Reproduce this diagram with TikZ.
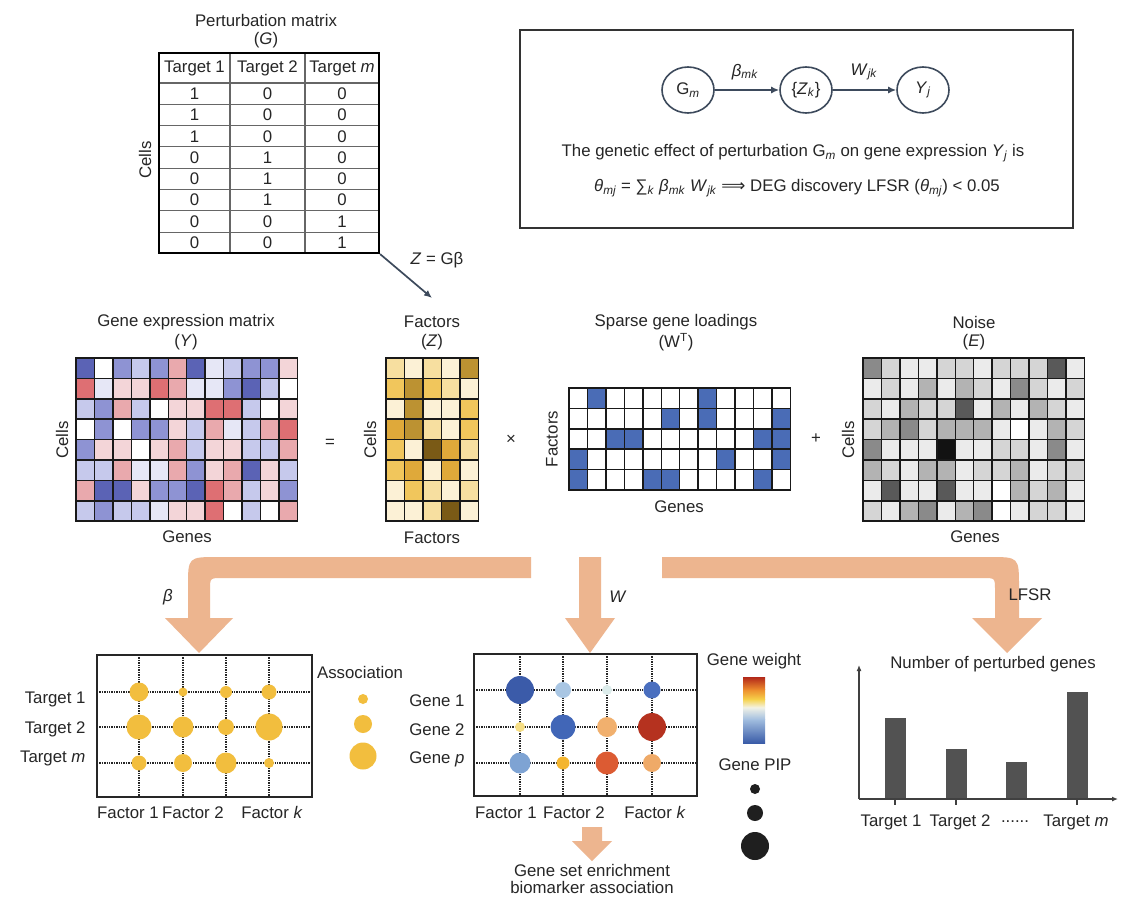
\documentclass[tikz,border=0pt]{standalone}
\usepackage{fontspec}
\setmainfont{Liberation Sans}
\newfontfamily\symfont{DejaVu Sans}
\usetikzlibrary{arrows.meta}
\usetikzlibrary{shapes.geometric}

\definecolor{slate}{HTML}{3D4A5C}
\definecolor{peach}{HTML}{EDB58F}
\definecolor{assocy}{HTML}{F2BE3E}
% expression matrix
\definecolor{hB3}{HTML}{5B63B5}
\definecolor{hB2}{HTML}{8E93D3}
\definecolor{hB1}{HTML}{C6C9EC}
\definecolor{hB0}{HTML}{E6E7F6}
\definecolor{hW}{HTML}{FFFFFF}
\definecolor{hR1}{HTML}{F3D5D8}
\definecolor{hR2}{HTML}{E9A9AD}
\definecolor{hR3}{HTML}{DE6F73}
% factors
\definecolor{zY0}{HTML}{FCF1D6}
\definecolor{zY1}{HTML}{F7DFA0}
\definecolor{zY2}{HTML}{F1C65C}
\definecolor{zY3}{HTML}{DFA93A}
\definecolor{zY4}{HTML}{BC9232}
\definecolor{zY5}{HTML}{7A5A16}
% loadings
\definecolor{wW}{HTML}{FFFFFF}
\definecolor{wB}{HTML}{4A6CB6}
% noise
\definecolor{nG0}{HTML}{FFFFFF}
\definecolor{nG1}{HTML}{EBEBEB}
\definecolor{nG2}{HTML}{D5D5D5}
\definecolor{nG3}{HTML}{B3B3B3}
\definecolor{nG4}{HTML}{8A8A8A}
\definecolor{nG5}{HTML}{595959}
\definecolor{nG6}{HTML}{121212}
% gene weights
\definecolor{gDB}{HTML}{3B5BA9}
\definecolor{gLB}{HTML}{A9C6E3}
\definecolor{gVL}{HTML}{DCECEB}
\definecolor{gMB}{HTML}{4A6FBF}
\definecolor{gLY}{HTML}{F6DE84}
\definecolor{gBB}{HTML}{4166B7}
\definecolor{gLO}{HTML}{F1B06E}
\definecolor{gDR}{HTML}{B5321F}
\definecolor{gSB}{HTML}{7EA3D3}
\definecolor{gYO}{HTML}{F4B52E}
\definecolor{gRO}{HTML}{DC5B33}
\definecolor{gPO}{HTML}{EFAA68}
\definecolor{gwblue}{HTML}{3A5CA8}
\definecolor{gwlblue}{HTML}{A3BFE0}
\definecolor{gwpale}{HTML}{F3F3E6}
\definecolor{gwyellow}{HTML}{F6D24A}
\definecolor{gworange}{HTML}{EC8A2C}
\definecolor{gwred}{HTML}{B2281A}

\newcommand{\figfont}{\fontsize{16.8}{20}\selectfont}
\newcommand{\cellw}{18.45}
\newcommand{\cellh}{20.4}
% #1 columns, #2 rows, #3 colour rows
\newcommand{\cellgrid}[3]{%
  \foreach \cells [count=\ri] in {#3} {
    \foreach \cc [count=\ci] in \cells
      \fill[fill=\cc] ({(\ci-1)*\cellw},{(\ri-1)*\cellh}) rectangle ++(\cellw,\cellh);
  }
  \foreach \ci in {0,...,#1}
    \draw[cell line] ({\ci*\cellw},0) -- ({\ci*\cellw},{#2*\cellh});
  \foreach \ri in {0,...,#2}
    \draw[cell line] (0,{\ri*\cellh}) -- ({#1*\cellw},{\ri*\cellh});
}

\tikzset{
  cell line/.style={draw=black!90, line width=1.5pt, line cap=rect},
  tab line/.style={draw=black!60, line width=1.1pt},
  tab frame/.style={draw=black, line width=2.2pt, inner sep=0pt, minimum width=220, minimum height=200},
  latent/.style={ellipse, draw=slate, line width=1.6pt, minimum width=52, minimum height=46, inner sep=1pt},
  link/.style={draw=slate, line width=1.7pt, -{Latex[length=8pt,width=7pt]}},
  model box/.style={draw=black!80, line width=1.6pt, inner sep=0pt, minimum width=553, minimum height=198},
  dot grid/.style={draw=black!85, densely dotted, line width=1.4pt},
  plot frame/.style={draw=black!85, line width=2pt},
  assoc/.style={circle, fill=assocy, inner sep=0pt},
  weight dot/.style={circle, inner sep=0pt},
  pip/.style={circle, fill=black!88, inner sep=0pt},
  axis line/.style={draw=black!75, line width=1.3pt, -{Latex[length=6pt,width=5pt]}},
  tick line/.style={draw=black!75, line width=1.3pt},
  count bar/.style={fill=black!68},
}

\begin{document}
\begin{tikzpicture}[x=1pt,y=-1pt,font=\figfont,text=black!85]
\path[use as bounding box, fill=white] (0,0) rectangle (1132,902);

% perturbation matrix
\node (ptitle) at (266,20) {Perturbation matrix};
\node (pG) at (266,40) {(\textit{G})};
\foreach \yy in {0,...,7}
  \draw[tab line] (159,{83+\yy*21.3}) -- (379,{83+\yy*21.3});
\draw[tab line] (230,53) -- (230,253);
\draw[tab line] (305,53) -- (305,253);
\node[tab frame] (gtab) at (269,153) {};
\node (h1) at (194.5,68) {Target 1};
\node (h2) at (267.5,68) {Target 2};
\node (h3) at (342,68) {Target \textit{m}};
\foreach \a/\b/\c [count=\ri] in {1/0/0,1/0/0,1/0/0,0/1/0,0/1/0,0/1/0,0/0/1,0/0/1} {
  \node (g-\ri-1) at (194.5,{83+(\ri-0.5)*21.3}) {\a};
  \node (g-\ri-2) at (267.5,{83+(\ri-0.5)*21.3}) {\b};
  \node (g-\ri-3) at (342,{83+(\ri-0.5)*21.3}) {\c};
}
\node[rotate=90] (gcells) at (145,160) {Cells};
\coordinate (zhead) at (432,298);
\draw[link] (gtab.south east) -- (zhead);
\node (zeq) at (437,260) {\textit{Z} = Gβ};

% model box
\node[model box] (mbox) at (796.5,129) {};
\node[latent] (gm) at (688,90) {G\textsubscript{\textit{m}}};
\node[latent] (zk) at (806,90) {\{\textit{Z}\textsubscript{\textit{k}}\}};
\node[latent] (yj) at (923,90) {\textit{Y}\textsubscript{\textit{j}}};
\draw[link] (gm) -- (zk);
\draw[link] (zk) -- (yj);
\node (lbeta) at (745,72) {\textit{β}\textsubscript{\textit{mk}}};
\node (lw) at (864,72) {\textit{W}\textsubscript{\textit{jk}}};
\node (effect) at (793,153) {The genetic effect of perturbation G\textsubscript{\textit{m}} on gene expression \textit{Y}\textsubscript{\textit{j}} is};
\node (theta) at (797,188) {\textit{θ}\textsubscript{\textit{mj}} = ∑\textsubscript{\textit{k}} \textit{β}\textsubscript{\textit{mk}} \textit{W}\textsubscript{\textit{jk}} {\symfont ⟹} DEG discovery LFSR (\textit{θ}\textsubscript{\textit{mj}}) < 0.05};

% gene expression matrix
\node (ytitle) at (186,322) {Gene expression matrix};
\node (yY) at (186,342) {(\textit{Y})};
\begin{scope}[shift={(76,358)}]
\cellgrid{12}{8}{
  {hB3,hW,hB2,hB1,hB2,hR2,hB3,hB0,hB1,hB2,hB2,hR1},
  {hR3,hB0,hR1,hR1,hR3,hR2,hB0,hB0,hB2,hB3,hB1,hW},
  {hB1,hB2,hR2,hB1,hW,hR1,hR1,hR3,hR3,hB1,hW,hR1},
  {hW,hB2,hW,hB2,hB2,hR1,hB1,hR2,hB0,hB1,hR2,hR3},
  {hB2,hR1,hR1,hW,hR1,hR2,hB1,hR1,hR1,hB1,hB1,hR2},
  {hB1,hB1,hR2,hB0,hB0,hR2,hB2,hR1,hR2,hB3,hR1,hB1},
  {hR2,hB3,hB3,hR1,hB2,hB2,hB3,hR3,hR2,hB1,hR1,hB2},
  {hB1,hB2,hB1,hB1,hB0,hR1,hR1,hR3,hW,hB1,hW,hR2}}
\end{scope}
\node[rotate=90] (ycells) at (62,440) {Cells};
\node (ygenes) at (187,537) {Genes};
\node (eqsign) at (330,443) {=};

% factors
\node (ztitle) at (432,322) {Factors};
\node (zZ) at (432,342) {(\textit{Z})};
\begin{scope}[shift={(386,358)}]
\cellgrid{5}{8}{
  {zY1,zY0,zY1,zY0,zY4},
  {zY2,zY4,zY2,zY1,zY0},
  {zY0,zY4,zY0,zY0,zY2},
  {zY3,zY4,zY1,zY0,zY2},
  {zY2,zY0,zY5,zY3,zY1},
  {zY2,zY3,zY0,zY3,zY0},
  {zY0,zY2,zY1,zY0,zY1},
  {zY0,zY0,zY1,zY5,zY0}}
\end{scope}
\node[rotate=90] (zcells) at (370,440) {Cells};
\node (zfactors) at (432,538) {Factors};
\node (timessign) at (511,440) {×};

% sparse loadings
\node (wtitle) at (676,322) {Sparse gene loadings};
\node (wWT) at (676,342) {(W\textsuperscript{T})};
\begin{scope}[shift={(569,388)}]
\cellgrid{12}{5}{
  {wW,wB,wW,wW,wW,wW,wW,wB,wW,wW,wW,wW},
  {wW,wW,wW,wW,wW,wB,wW,wB,wW,wW,wW,wB},
  {wW,wW,wB,wB,wW,wW,wW,wW,wW,wW,wB,wB},
  {wB,wW,wW,wW,wW,wW,wW,wW,wB,wW,wW,wB},
  {wB,wW,wW,wW,wB,wB,wW,wW,wW,wW,wB,wW}}
\end{scope}
\node[rotate=90] (wfactors) at (552,439) {Factors};
\node (wgenes) at (679,507) {Genes};
\node (plussign) at (816,439) {+};

% noise
\node (etitle) at (974,322) {Noise};
\node (eE) at (974,342) {(\textit{E})};
\begin{scope}[shift={(863,358)}]
\cellgrid{12}{8}{
  {nG4,nG2,nG1,nG1,nG2,nG2,nG1,nG2,nG2,nG2,nG5,nG1},
  {nG1,nG2,nG1,nG3,nG1,nG3,nG2,nG1,nG4,nG2,nG1,nG2},
  {nG2,nG1,nG3,nG2,nG2,nG5,nG1,nG3,nG1,nG3,nG2,nG1},
  {nG2,nG3,nG4,nG2,nG3,nG3,nG3,nG1,nG0,nG1,nG3,nG2},
  {nG4,nG1,nG1,nG1,nG6,nG1,nG1,nG2,nG2,nG1,nG4,nG1},
  {nG3,nG2,nG1,nG3,nG3,nG1,nG2,nG2,nG3,nG1,nG2,nG2},
  {nG1,nG5,nG1,nG1,nG5,nG1,nG1,nG0,nG3,nG2,nG3,nG1},
  {nG2,nG1,nG3,nG4,nG1,nG3,nG4,nG0,nG1,nG2,nG2,nG1}}
\end{scope}
\node[rotate=90] (ecells) at (848,440) {Cells};
\node (egenes) at (975,537) {Genes};

% wide arrows
\fill[peach] (531,557) -- (218,557) .. controls (188,557) .. (188,587) -- (188,618)
  -- (165,618) -- (199,653) -- (233,618) -- (210,618) -- (210,590)
  .. controls (210,578) .. (222,578) -- (531,578) -- cycle;
\fill[peach] (579,557) -- (601,557) -- (601,618) -- (615,618) -- (590,653)
  -- (565,618) -- (579,618) -- cycle;
\fill[peach] (662,557) -- (989,557) .. controls (1019,557) .. (1019,587) -- (1019,618)
  -- (1042,618) -- (1007,653) -- (972,618) -- (995,618) -- (995,590)
  .. controls (995,578) .. (983,578) -- (662,578) -- cycle;
\node (abeta) at (168,597) {\textit{β}};
\node (aw) at (618,597) {\textit{W}};
\node (alfsr) at (1030,595) {LFSR};

% association plot
\foreach \xx in {139,183,226,269}
  \draw[dot grid] (\xx,655) -- (\xx,797);
\foreach \yy in {692,727,763}
  \draw[dot grid] (97,\yy) -- (312,\yy);
\draw[plot frame] (97,655) rectangle (312,797);
\foreach \xx/\yy/\dd [count=\n] in {139/692/19,183/692/9,226/692/12,269/692/15,
    139/727/25,183/727/21,226/727/16,269/727/27,
    139/763/15,183/763/18,226/763/21,269/763/10}
  \node[assoc, minimum size=\dd] (ab\n) at (\xx,\yy) {};
\node[anchor=base east] (at1) at (89,703) {Target 1};
\node[anchor=base east] (at2) at (89,733) {Target 2};
\node[anchor=base east] (atm) at (89,762) {Target \textit{m}};
\node[anchor=base] (af1) at (128,818) {Factor 1};
\node[anchor=base] (af2) at (193,818) {Factor 2};
\node[anchor=base] (afk) at (272,818) {Factor \textit{k}};
\node (assoctitle) at (360,672) {Association};
\node[assoc, minimum size=10] (al1) at (363,699) {};
\node[assoc, minimum size=18] (al2) at (363,724) {};
\node[assoc, minimum size=27] (al3) at (363,756) {};

% gene weight plot
\foreach \xx in {520,563,607,652}
  \draw[dot grid] (\xx,654) -- (\xx,796);
\foreach \yy in {690,727,763}
  \draw[dot grid] (474,\yy) -- (697,\yy);
\draw[plot frame] (474,654) rectangle (697,796);
\foreach \xx/\yy/\dd/\cc [count=\n] in {520/690/28/gDB,563/690/16/gLB,607/690/10/gVL,652/690/17/gMB,
    520/727/10/gLY,563/727/25/gBB,607/727/20/gLO,652/727/28/gDR,
    520/763/21/gSB,563/763/13/gYO,607/763/23/gRO,652/763/18/gPO}
  \node[weight dot, fill=\cc, minimum size=\dd] (wd\n) at (\xx,\yy) {};
\node[anchor=base east] (ag1) at (468,706) {Gene 1};
\node[anchor=base east] (ag2) at (468,735) {Gene 2};
\node[anchor=base east] (agp) at (468,763) {Gene \textit{p}};
\node[anchor=base] (bf1) at (506,818) {Factor 1};
\node[anchor=base] (bf2) at (574,818) {Factor 2};
\node[anchor=base] (bfk) at (655,818) {Factor \textit{k}};
\node (gwtitle) at (754,661) {Gene weight};
% colour bar, bottom to top
\shade[top color=gwlblue, bottom color=gwblue] (743,743) rectangle (765,719);
\shade[top color=gwpale, bottom color=gwlblue] (743,719.5) rectangle (765,707);
\shade[top color=gwyellow, bottom color=gwpale] (743,707.5) rectangle (765,699);
\shade[top color=gworange, bottom color=gwyellow] (743,699.5) rectangle (765,689);
\shade[top color=gwred, bottom color=gworange] (743,689.5) rectangle (765,677);
\node (piptitle) at (755,765) {Gene PIP};
\node[pip, minimum size=10] (pip1) at (755,789) {};
\node[pip, minimum size=16] (pip2) at (755,813) {};
\node[pip, minimum size=28] (pip3) at (755,846) {};
\fill[peach] (582,827) -- (602,827) -- (602,841) -- (612,841) -- (592,861)
  -- (572,841) -- (582,841) -- cycle;
\node (enrich1) at (592,870) {Gene set enrichment};
\node (enrich2) at (592,887) {biomarker association};

% perturbed genes
\coordinate (orig) at (859,799);
\coordinate (ytop) at (859,665);
\coordinate (xend) at (1118,799);
\foreach \xx/\hh [count=\n] in {895/718,956/749,1016/762,1077/692}
  \fill[count bar] ({\xx-10.5},\hh) rectangle ({\xx+10.5},799);
\draw[axis line] (orig) -- (ytop);
\draw[axis line] (orig) -- (xend);
\foreach \xx in {895,956,1077}
  \draw[tick line] (\xx,799) -- (\xx,805);
\node (bartitle) at (993,664) {Number of perturbed genes};
\node (bt1) at (891,822) {Target 1};
\node (bt2) at (960,822) {Target 2};
\node (btdots) at (1015,822) {......};
\node (btm) at (1076,822) {Target \textit{m}};
\end{tikzpicture}
\end{document}
